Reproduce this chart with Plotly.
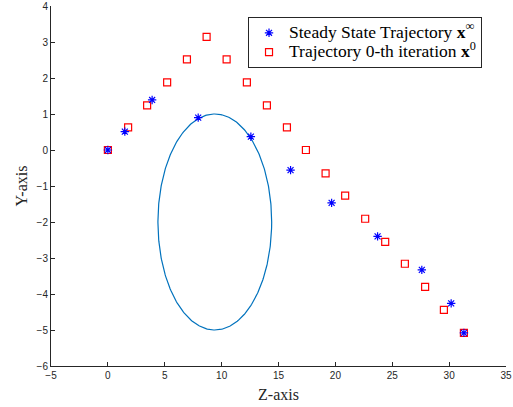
import numpy as np
import plotly.graph_objects as go

# Data
steady_z = [0, 1.49, 3.89, 7.94, 12.57, 16.06, 19.67, 23.71, 27.6, 30.18, 31.3]
steady_y = [0, 0.51, 1.39, 0.90, 0.37, -0.56, -1.47, -2.40, -3.33, -4.26, -5.08]
init_z = [0, 1.78, 3.45, 5.21, 6.95, 8.68, 10.44, 12.22, 13.98, 15.74, 17.41,
          19.14, 20.86, 22.62, 24.38, 26.11, 27.89, 29.54, 31.3]
init_y = [0, 0.63, 1.24, 1.88, 2.52, 3.14, 2.52, 1.88, 1.24, 0.63, 0,
          -0.65, -1.27, -1.91, -2.55, -3.16, -3.80, -4.44, -5.08]
ellipse_center = [9.4, -2.0]
ellipse_semi_axes = [5.0, 3.0]
legend_labels = ["Steady State Trajectory <b>x</b><sup>∞</sup>",
                 "Trajectory 0-th iteration <b>x</b><sup>0</sup>"]

t = np.linspace(0, 2 * np.pi, 400)
ell_z = ellipse_center[0] + ellipse_semi_axes[0] * np.cos(t)
ell_y = ellipse_center[1] + ellipse_semi_axes[1] * np.sin(t)


def big(s):
    return '<span style="font-size:17.5px">' + s + '</span>'


fig = go.Figure()
fig.add_trace(go.Scatter(x=ell_z, y=ell_y, mode="lines",
                         line=dict(color="#0072BD", width=1.2),
                         showlegend=False, hoverinfo="skip"))
fig.add_trace(go.Scatter(x=init_z, y=init_y, mode="markers",
                         name=big(legend_labels[1]),
                         legendrank=2,
                         marker=dict(symbol="square-open", size=7, color="red",
                                     line=dict(color="red", width=1.2))))
fig.add_trace(go.Scatter(x=steady_z, y=steady_y, mode="markers",
                         name=big(legend_labels[0]),
                         legendrank=1,
                         marker=dict(symbol="asterisk-open", size=7, color="blue",
                                     line=dict(color="blue", width=1.2))))

axis_common = dict(showline=True, linecolor="#262626", linewidth=1,
                   ticks="inside", ticklen=4, tickcolor="#262626",
                   showgrid=False, zeroline=False, mirror=False, automargin=False,
                   tickfont=dict(family="Liberation Sans", size=10, color="#262626"))

fig.update_xaxes(range=[-5, 35], dtick=5, tick0=-5,
                 title=dict(text="Z-axis", standoff=8,
                            font=dict(family="Liberation Serif", size=16, color="#262626")),
                 **axis_common)
fig.update_yaxes(range=[-6, 4], dtick=1, tick0=-6,
                 title=dict(text="Y-axis", standoff=4,
                            font=dict(family="Liberation Serif", size=16, color="#262626")),
                 **axis_common)

fig.update_layout(
    width=513, height=407,
    margin=dict(l=51, r=7, t=6, b=41, autoexpand=False),
    plot_bgcolor="white", paper_bgcolor="white",
    legend=dict(x=0.433, y=0.969, xanchor="left", yanchor="top",
                bordercolor="#262626", borderwidth=1, bgcolor="white",
                font=dict(family="Liberation Serif", size=12.5, color="black"),
                tracegroupgap=0),
)

fig.write_html("out.html",
               config={"displayModeBar": False},
               post_script="document.body.style.margin='0';document.body.style.overflow='hidden';")
